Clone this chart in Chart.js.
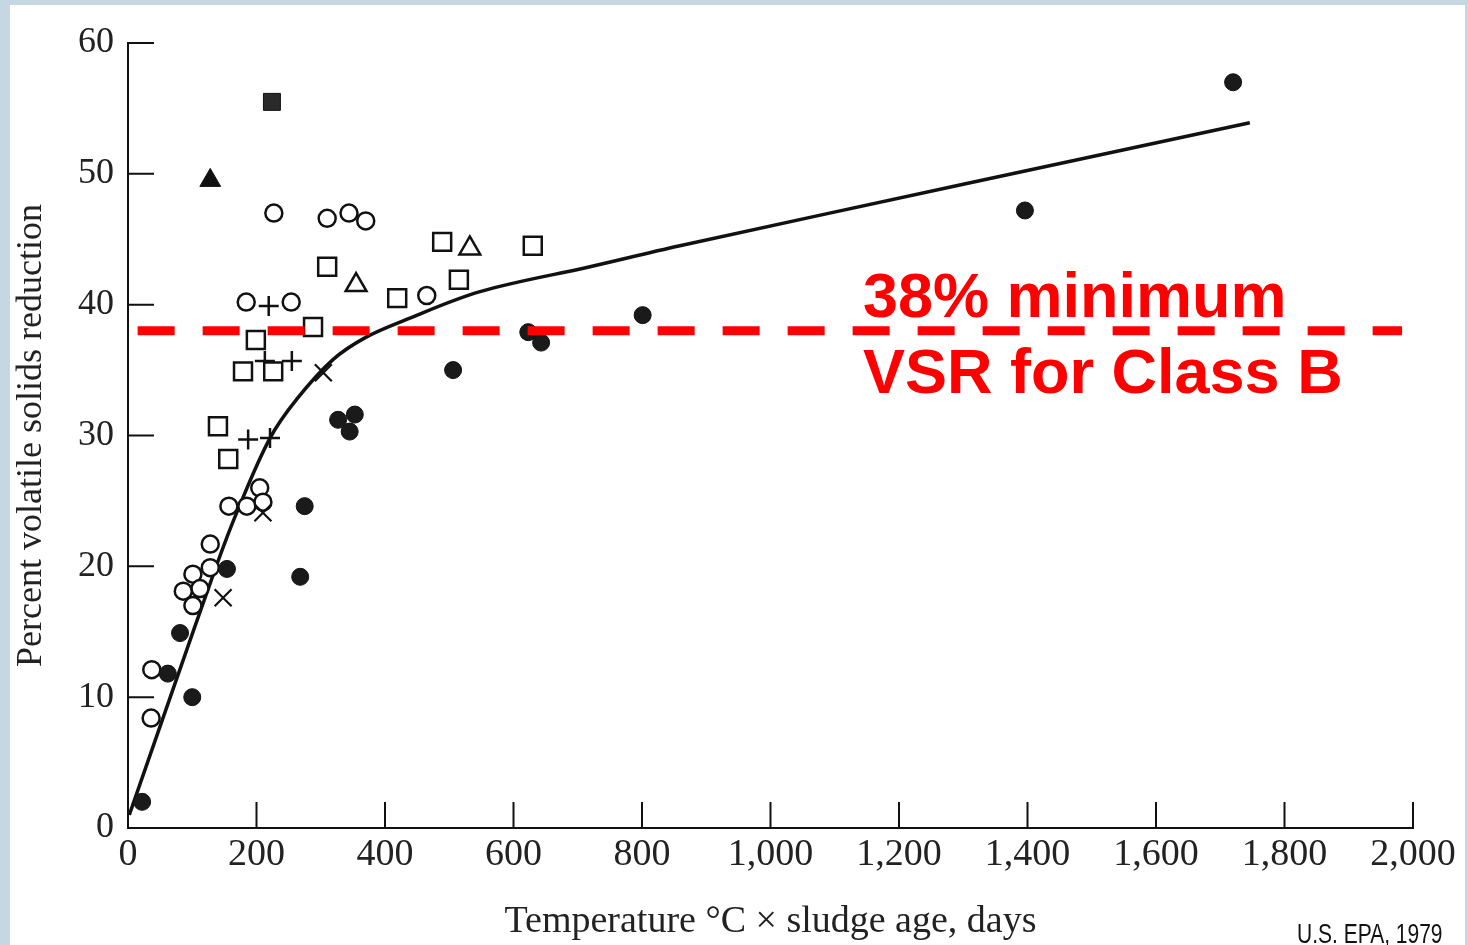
<!DOCTYPE html>
<html>
<head>
<meta charset="utf-8">
<script src="https://cdn.jsdelivr.net/npm/chart.js@4"></script>
<style>
  html, body { margin: 0; padding: 0; }
  body { width: 1468px; height: 945px; background: #c4d7e2; position: relative; overflow: hidden; }
  #panel { position: absolute; left: 10px; top: 5px; width: 1455px; height: 940px; background: #fff; }
  #myChart { position: absolute; left: 0; top: 0; }
</style>
</head>
<body>
<div id="panel"></div>
<canvas id="myChart" width="1468" height="945"></canvas>
<script>
// values (x = temperature x sludge age, y = % VSR)
const openCircleX = [227, 310, 344, 370, 184, 254, 465, 205, 210, 185, 157, 128, 128, 101, 112, 86, 101, 37, 36];
const openCircleY = [47.0, 46.6, 47.0, 46.4, 40.2, 40.2, 40.7, 26.0, 24.9, 24.6, 24.6, 21.7, 19.9, 19.4, 18.3, 18.1, 17.0, 12.1, 8.4];

const filledCircleX = [22, 62, 81, 100, 154, 268, 275, 327, 353, 345, 506, 623, 643, 801, 1396, 1720];
const filledCircleY = [2.0, 11.8, 14.9, 10.0, 19.8, 19.2, 24.6, 31.2, 31.6, 30.3, 35.0, 37.9, 37.1, 39.2, 47.2, 57.0];

const openSquareX = [310, 419, 288, 199, 179, 226, 140, 156, 489, 630, 515];
const openSquareY = [42.9, 40.5, 38.3, 37.3, 34.9, 34.9, 30.7, 28.2, 44.8, 44.5, 41.9];

const filledSquareX = [224];
const filledSquareY = [55.5];

const openTriangleX = [355, 532];
const openTriangleY = [41.5, 44.3];

const filledTriangleX = [128];
const filledTriangleY = [49.5];

const plusX = [219, 213, 255, 187, 221];
const plusY = [39.9, 35.7, 35.7, 29.7, 29.8];

const crossX = [304, 210, 148];
const crossY = [34.8, 24.1, 17.6];

// fitted curve drawn in the original figure
const curveX = [2, 70, 138, 170, 221, 263, 319, 370, 430, 548, 719, 859, 1300, 1746];
const curveY = [1.0, 10.6, 20.1, 24.2, 29.8, 32.8, 35.8, 37.5, 38.8, 41.0, 42.9, 44.5, 49.2, 53.9];

// Class B minimum
const thresholdY = 38;
const thresholdX = [15, 1983];

const noteLines = ['38% minimum', 'VSR for Class B'];
const sourceText = 'U.S. EPA, 1979';
const xTitle = 'Temperature \u00B0C \u00D7 sludge age, days';
const yTitle = 'Percent volatile solids reduction';

function pts(xs, ys) {
  return xs.map((x, i) => ({ x: x, y: ys[i] }));
}

function markers(xs, ys, style, radius, fill, bw) {
  return {
    data: pts(xs, ys),
    pointStyle: style,
    pointRadius: radius,
    backgroundColor: fill,
    borderColor: '#111',
    borderWidth: bw,
    pointBackgroundColor: fill,
    pointBorderColor: '#111',
    pointBorderWidth: bw
  };
}

// tick marks in the scan point into the plot, so draw them here
const innerTicks = {
  id: 'innerTicks',
  beforeDatasetsDraw(chart) {
    const { ctx, chartArea, scales: { x, y } } = chart;
    ctx.save();
    ctx.strokeStyle = '#111';
    ctx.lineWidth = 2;
    ctx.beginPath();
    x.ticks.forEach(t => {
      if (t.value === 0) return;
      const px = x.getPixelForValue(t.value);
      ctx.moveTo(px, chartArea.bottom);
      ctx.lineTo(px, chartArea.bottom - 26);
    });
    y.ticks.forEach(t => {
      if (t.value === 0) return;
      const py = y.getPixelForValue(t.value);
      ctx.moveTo(chartArea.left, py);
      ctx.lineTo(chartArea.left + 26, py);
    });
    ctx.stroke();
    ctx.restore();
  }
};

const notes = {
  id: 'notes',
  afterDraw(chart) {
    const ctx = chart.ctx;
    ctx.save();
    ctx.fillStyle = '#ff0000';
    ctx.font = 'bold 63px "Liberation Sans", Arial, sans-serif';
    ctx.textBaseline = 'alphabetic';
    ctx.fillText(noteLines[0], 863, 317);
    ctx.fillText(noteLines[1], 863, 393);

    ctx.fillStyle = '#111';
    ctx.font = '21px "Liberation Sans", Arial, sans-serif';
    ctx.translate(1297, 943);
    ctx.scale(1, 1.28);
    ctx.fillText(sourceText, 0, 0);
    ctx.restore();
  }
};

const ctx = document.getElementById('myChart');
new Chart(ctx, {
  type: 'scatter',
  data: {
    datasets: [
      {
        data: pts(thresholdX, [thresholdY, thresholdY]),
        showLine: true,
        borderColor: '#ff0000',
        borderWidth: 9,
        borderDash: [37, 28],
        borderCapStyle: 'butt',
        pointRadius: 0
      },
      markers(filledSquareX, filledSquareY, 'rect', 12, '#2a2a2a', 1),
      markers(filledTriangleX, filledTriangleY, 'triangle', 12, '#111', 1),
      markers(openTriangleX, openTriangleY, 'triangle', 12, '#fff', 2.5),
      markers(openSquareX, openSquareY, 'rect', 12.7, '#fff', 2.5),
      markers(plusX, plusY, 'cross', 10, '#fff', 2.5),
      markers(crossX, crossY, 'crossRot', 12, '#fff', 2.2),
      markers(filledCircleX, filledCircleY, 'circle', 8.5, '#1a1a1a', 1),
      markers(openCircleX, openCircleY, 'circle', 8.5, '#fff', 2.5),
      {
        data: pts(curveX, curveY),
        showLine: true,
        borderColor: '#111',
        borderWidth: 3.5,
        tension: 0.35,
        pointRadius: 0
      }
    ]
  },
  options: {
    responsive: false,
    animation: false,
    events: [],
    layout: { padding: { top: 43, right: 55, left: 0, bottom: 0 } },
    plugins: {
      legend: { display: false },
      tooltip: { enabled: false }
    },
    scales: {
      x: {
        type: 'linear',
        position: 'bottom',
        min: 0,
        max: 2000,
        ticks: {
          stepSize: 200,
          padding: 4,
          maxRotation: 0,
          autoSkip: false,
          color: '#222',
          font: { family: 'Liberation Serif', size: 38 },
          callback: v => v.toLocaleString('en-US')
        },
        grid: { display: false, drawTicks: false },
        border: { display: true, color: '#111', width: 2 },
        title: {
          display: true,
          text: xTitle,
          color: '#222',
          font: { family: 'Liberation Serif', size: 38 },
          padding: { top: 0, bottom: 0 }
        },
        afterFit(s) { s.height = 117; }
      },
      y: {
        type: 'linear',
        min: 0,
        max: 60,
        ticks: {
          stepSize: 10,
          padding: 14,
          color: '#222',
          font: { family: 'Liberation Serif', size: 36 }
        },
        grid: { display: false, drawTicks: false },
        border: { display: true, color: '#111', width: 2 },
        title: {
          display: true,
          text: yTitle,
          color: '#222',
          font: { family: 'Liberation Serif', size: 36 },
          padding: { top: 10, bottom: 0 }
        },
        afterFit(s) { s.width = 128; }
      }
    }
  },
  plugins: [innerTicks, notes]
});
</script>
</body>
</html>
